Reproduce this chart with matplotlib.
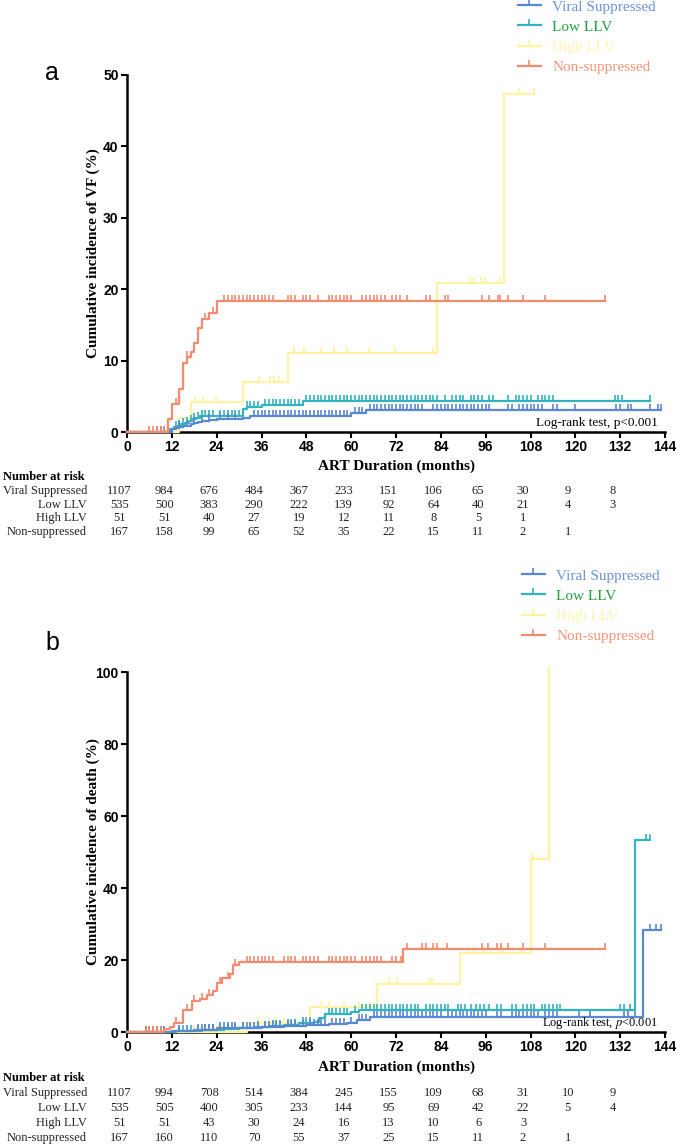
import numpy as np
import matplotlib
matplotlib.use("Agg")
import matplotlib.pyplot as plt
from matplotlib.path import Path
from matplotlib.lines import Line2D
from matplotlib import transforms

plt.rcParams['mathtext.fontset'] = 'stix'

# ---------------- data ----------------
groups = ["Viral Suppressed", "Low LLV", "High LLV", "Non-suppressed"]
line_colors = ["#5a87d3", "#33b3bc", "#fff2a0", "#f48a6e"]
text_colors = ["#6c93dc", "#1f9f3c", "#fff4b0", "#f5967c"]

months = [0, 12, 24, 36, 48, 60, 72, 84, 96, 108, 120, 132, 144]

# panel a - virological failure: step times / cumulative %, end of follow-up, censor times
vs_a_t = [0, 12, 13, 14, 15, 16, 17, 18, 19, 20, 22, 24, 31, 33, 60, 64]
vs_a_y = [0, 0.4, 0.5, 0.7, 0.8, 0.9, 1.1, 1.2, 1.4, 1.6, 1.7, 1.8, 2.0, 2.2, 2.6, 3.1]
vs_a_end = 143
vs_a_cens = [8, 9, 10, 14, 16, 18, 20, 22, 25, 27, 29, 34, 35, 36, 37, 38, 39, 40, 41, 42, 43, 44,
             45, 46, 47, 48, 49, 50, 51, 52, 53, 54, 55, 56, 57, 58, 59, 61, 62, 63, 65, 66, 67,
             68, 69, 70, 71, 72, 73, 74, 75, 76, 77, 78, 79, 82, 83, 84, 85, 86, 87, 88, 89, 90,
             91, 92, 93, 94, 95, 96, 97, 102, 103, 105, 106, 107, 108, 109, 110, 111, 114, 115,
             120, 131, 132, 134, 135, 140, 142]

ll_a_t = [0, 11.5, 12.5, 13.5, 14.5, 15.5, 16.5, 17.5, 18.5, 19.5, 21, 31, 32, 36, 47]
ll_a_y = [0, 0.4, 0.7, 0.9, 1.1, 1.3, 1.5, 1.8, 2.0, 2.2, 2.3, 3.2, 3.5, 3.8, 4.3]
ll_a_end = 140
ll_a_cens = [13, 14, 15, 16, 17, 18, 19, 20, 21, 22, 23, 25, 26, 27, 28, 29, 30, 32, 33, 34, 35,
             37, 38, 39, 40, 41, 42, 43, 44, 45, 46, 48, 49, 50, 51, 52, 53, 54, 55, 56, 57, 58,
             59, 60, 61, 62, 63, 64, 65, 66, 67, 68, 69, 70, 71, 72, 73, 74, 75, 76, 77, 78, 79,
             80, 81, 82, 83, 85, 87, 88, 89, 90, 92, 93, 94, 95, 97, 98, 102, 104, 105, 106, 107,
             108, 110, 111, 112, 113, 114, 130.5, 131.5, 132.4]

hl_a_t = [0, 14, 17, 31, 43, 83, 101]
hl_a_y = [0, 2.0, 4.2, 7.0, 11.0, 20.8, 47.3]
hl_a_end = 109
hl_a_cens = [18.3, 20.3, 23.8, 35.3, 38.3, 39.3, 40.8, 44.8, 47.3, 51.8, 55.3, 58.8, 64.8,
             71.8, 81.8, 91.8, 92.8, 94.8, 95.8, 99.8, 104.8]

ns_a_t = [0, 11, 12, 14, 15, 16, 17, 18, 19, 20, 22, 24]
ns_a_y = [0, 1.8, 3.9, 6.0, 9.7, 10.5, 11.2, 12.5, 14.5, 15.8, 16.6, 18.3]
ns_a_end = 128
ns_a_cens = [6, 7, 8, 9, 10, 13, 16, 21, 23, 26, 27, 28, 29, 30, 31, 32, 33, 34, 35, 36, 37, 38,
             39, 43, 44, 45, 47, 48, 49, 51, 54, 55, 56, 57, 58, 59, 60, 63, 64, 65, 66, 67, 68,
             69, 71, 72, 73, 75, 80, 81, 85, 86, 95, 97, 99.3, 99.8, 102, 106, 112]

# panel b - death
vs_b_t = [0, 12, 18, 24, 30, 36, 42, 48, 54, 59, 61.5, 65, 138]
vs_b_y = [0, 0.3, 0.6, 1.0, 1.2, 1.5, 1.7, 1.9, 2.1, 2.5, 3.2, 4.2, 28.2]
vs_b_end = 143
vs_b_cens = [5, 6, 7, 8, 9, 10, 14, 16, 19, 20, 21, 22, 23, 25, 26, 27, 28, 29, 31, 32, 33, 34,
             35, 37, 38, 39, 40, 41, 43, 44, 45, 47, 49, 50, 51, 52, 53, 55, 56, 57, 58, 60, 62,
             63, 64, 66, 67, 68, 69, 70, 71, 72, 73, 74, 75, 76, 77, 78, 79, 80, 81, 82, 83, 84,
             86, 87, 88, 89, 90, 91, 92, 93, 94, 95, 96, 99, 100, 103, 104, 105, 106, 107, 108,
             109, 110, 112, 113, 114, 115, 121, 124, 133, 134, 136, 140, 141.5]

ll_b_t = [0, 13, 20, 26, 30, 34, 38, 42, 46, 50, 51.5, 53, 60, 62, 136]
ll_b_y = [0, 0.3, 0.6, 0.9, 1.1, 1.4, 1.7, 2.0, 2.4, 2.8, 3.8, 5.0, 5.5, 6.2, 53.2]
ll_b_end = 140
ll_b_cens = [5, 6, 7, 8, 10, 14, 15, 17, 19, 21, 22, 23, 25, 27, 29, 31, 33, 35, 37, 39, 40, 41,
             43, 44, 45, 47, 48, 49, 54, 55, 56, 57, 58, 59, 61, 63, 64, 65, 66, 67, 68, 69, 70,
             71, 72, 73, 74, 75, 76, 77, 78, 80, 81, 82, 83, 84, 85, 86, 88.5, 89.5, 90.5, 92,
             93.4, 94.5, 95.5, 97, 99, 100, 103, 104, 106, 107, 108, 109, 111, 112, 113, 114,
             115, 116, 132, 133, 134.5, 139]

hl_b_t = [0, 32, 49, 67, 89, 108, 113]
hl_b_y = [0, 2.5, 7.0, 13.3, 22.0, 48.0, 100.0]
hl_b_end = 113
hl_b_cens = [12, 14, 16, 18, 20, 22, 24, 26, 28, 30, 35, 38, 40, 42, 45, 47, 52, 54, 58, 62,
             65, 70, 72.4, 80.7, 81.7, 91.5, 93, 95.5, 100.4, 105.3, 108.7]

ns_b_t = [0, 10, 11.5, 12.5, 15, 17.5, 19.5, 21.5, 23, 24, 25.5, 27.5, 28.5, 30, 74]
ns_b_y = [0, 0.8, 1.5, 2.5, 6.2, 8.6, 9.3, 10.2, 11.5, 13.5, 15.0, 16.2, 18.5, 19.5, 23.0]
ns_b_end = 128
ns_b_cens = [5, 6, 7, 8, 9, 13, 16, 18, 20, 22, 25, 27, 29, 32, 33, 34, 35, 36, 37, 38, 39,
             42, 43, 44, 45, 47, 48, 49, 50, 51, 54, 55, 56, 57, 58, 59, 60, 61, 63, 64, 65, 66,
             67, 68, 71, 72, 73.4, 75, 79, 80, 82, 83, 85.7, 95, 96.5, 99, 100, 102, 106, 112]

# number at risk
risk_a = [
    [1107, 984, 676, 484, 367, 233, 151, 106, 65, 30, 9, 8],
    [535, 500, 383, 290, 222, 139, 92, 64, 40, 21, 4, 3],
    [51, 51, 40, 27, 19, 12, 11, 8, 5, 1],
    [167, 158, 99, 65, 52, 35, 22, 15, 11, 2, 1],
]
risk_b = [
    [1107, 994, 708, 514, 384, 245, 155, 109, 68, 31, 10, 9],
    [535, 505, 400, 305, 233, 144, 95, 69, 42, 22, 5, 4],
    [51, 51, 43, 30, 24, 16, 13, 10, 6, 3],
    [167, 160, 110, 70, 55, 37, 25, 15, 11, 2, 1],
]

panel_a = [(vs_a_t, vs_a_y, vs_a_end, vs_a_cens), (ll_a_t, ll_a_y, ll_a_end, ll_a_cens),
           (hl_a_t, hl_a_y, hl_a_end, hl_a_cens), (ns_a_t, ns_a_y, ns_a_end, ns_a_cens)]
panel_b = [(vs_b_t, vs_b_y, vs_b_end, vs_b_cens), (ll_b_t, ll_b_y, ll_b_end, ll_b_cens),
           (hl_b_t, hl_b_y, hl_b_end, hl_b_cens), (ns_b_t, ns_b_y, ns_b_end, ns_b_cens)]

# ---------------- drawing ----------------
W, H = 685, 1147
fig = plt.figure(figsize=(W / 100, H / 100), dpi=100)

def fx(x):
    return x / W

def fy(y):
    return 1 - y / H

SERIF = "Liberation Serif"
SANS = "Liberation Sans"
tick_up = Path([(0, 0), (0, 1)], [Path.MOVETO, Path.LINETO])


def draw_km(ax, curves):
    # draw order: High LLV, Low LLV, Viral Suppressed, Non-suppressed
    for i in [2, 1, 0, 3]:
        t, y, end, cens = curves[i]
        xs = list(t) + [end]
        ys = list(y) + [y[-1]]
        ax.step(xs, ys, where='post', color=line_colors[i], lw=1.6, zorder=3, clip_on=False)
        t_arr = np.array(t)
        lev = [y[np.searchsorted(t_arr, c, side='right') - 1] for c in cens + [end]]
        ax.plot(cens + [end], lev, ls='none', marker=tick_up, ms=9, mew=1.2,
                color=line_colors[i], fillstyle='none', zorder=3, clip_on=False)


def style_axis(ax, ymax, ystep):
    for s in ['top', 'right']:
        ax.spines[s].set_visible(False)
    for s in ['left', 'bottom']:
        ax.spines[s].set_linewidth(1.8)
    ax.set_xlim(0, 144)
    ax.set_ylim(0, ymax)
    ax.set_xticks(months)
    ax.set_yticks(np.arange(0, ymax + 1, ystep))
    ax.tick_params(length=4, width=1.5, pad=2, labelsize=10)
    for lab in ax.get_xticklabels() + ax.get_yticklabels():
        lab.set_fontfamily(SANS)
        lab.set_fontweight('bold')


def legend(ax, x, y):
    handles = [Line2D([], [], color=c, lw=1.6, marker=tick_up, ms=8, mew=1.2, fillstyle='none')
               for c in line_colors]
    ax.legend(handles, groups, loc='upper left', bbox_to_anchor=(fx(x), fy(y)),
              bbox_transform=fig.transFigure, frameon=False, labelcolor=text_colors,
              prop={'family': SERIF, 'size': 11}, handlelength=1.5, handletextpad=0.75,
              labelspacing=0.42, borderpad=0, borderaxespad=0, numpoints=1)


def risk_table(ax, risk, y0, rows_y):
    tr = transforms.blended_transform_factory(ax.transData, fig.transFigure)
    fig.text(fx(3), fy(y0), "Number at risk", family=SERIF, weight='bold', size=9,
             va='center', ha='left')
    for r, (name, vals) in enumerate(zip(groups, risk)):
        fig.text(fx(87), fy(rows_y[r]), name, family=SERIF, size=8.9, va='center', ha='right',
                 color='#222222')
        for k, v in enumerate(vals):
            ax.text(months[k] - 2, fy(rows_y[r]), str(v), transform=tr, family=SERIF, size=9,
                    ha='center', va='center', color='#222222', clip_on=False)


# panel a
ax_a = fig.add_axes([fx(127), fy(432), 538 / W, (432 - 75) / H])
draw_km(ax_a, panel_a)
style_axis(ax_a, 50, 10)
ax_a.text(142, 0.4, "Log-rank test, p<0.001", family=SERIF, size=9.5, ha='right', va='bottom')
ax_a.set_ylabel("Cumulative incidence of VF (%)", family=SERIF, weight='bold', size=11)
ax_a.yaxis.set_label_coords(fx(100 - 127) * W / 538, 0.5)
fig.text(fx(396), fy(466), "ART Duration (months)", family=SERIF, weight='bold', size=11,
         ha='center', va='center')
fig.text(fx(52), fy(73), "a", family=SANS, size=18, ha='center', va='center')
legend(ax_a, 518, 0)
risk_table(ax_a, risk_a, 477, [491, 505, 518, 532])

# panel b
ax_b = fig.add_axes([fx(127), fy(1032), 538 / W, (1032 - 672) / H])
draw_km(ax_b, panel_b)
style_axis(ax_b, 100, 20)
ax_b.text(142, 0.3, "Log-rank test, $\\it{p}$<0.001", family=SERIF, size=9, ha='right',
          va='bottom')
ax_b.set_ylabel("Cumulative incidence of death (%)", family=SERIF, weight='bold', size=11)
ax_b.yaxis.set_label_coords(fx(100 - 127) * W / 538, 0.5)
fig.text(fx(396), fy(1067), "ART Duration (months)", family=SERIF, weight='bold', size=11,
         ha='center', va='center')
fig.text(fx(52), fy(643), "b", family=SANS, size=18, ha='center', va='center')
legend(ax_b, 522, 569)
risk_table(ax_b, risk_b, 1078, [1093, 1108, 1123, 1138])

fig.savefig("out.png", dpi=100)
